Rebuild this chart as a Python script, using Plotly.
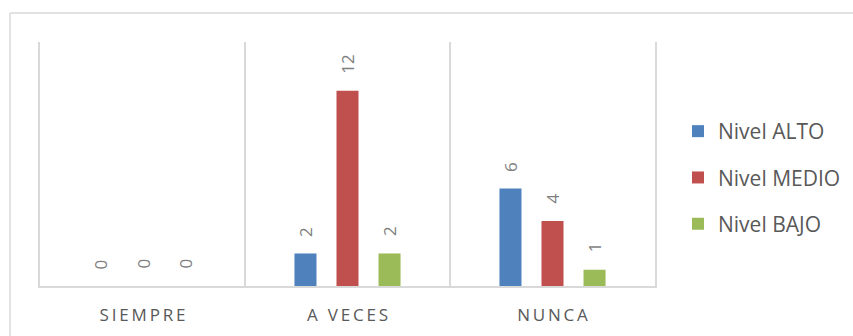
import plotly.graph_objects as go

# Survey answers per level
categories = ["SIEMPRE", "A VECES", "NUNCA"]
series_names = ["Nivel ALTO", "Nivel MEDIO", "Nivel BAJO"]
nivel_alto = [0, 2, 6]
nivel_medio = [0, 12, 4]
nivel_bajo = [0, 2, 1]
series_values = [nivel_alto, nivel_medio, nivel_bajo]
colors = ["#4F81BD", "#C0504D", "#9BBB59"]

W, H = 853, 336
M_L, M_R, M_T, M_B = 40, 198, 42, 50
BARGAP = 0.385
BARGROUPGAP = 0.476
Y_MAX = 15

FONT = "Open Sans"
LABEL_GRAY = "#7F7F7F"
TEXT_GRAY = "#595959"
LINE_GRAY = "#D9D9D9"

# letter-spaced category labels
spaced = ["\u2009".join(c) for c in categories]

fig = go.Figure()
for name, vals, col in zip(series_names, series_values, colors):
    fig.add_trace(go.Bar(
        name=name, x=categories, y=vals,
        marker=dict(color=col, line=dict(width=0)),
        legendgroup=name,
        hoverinfo="skip",
    ))

# value labels above each bar, rotated
plot_w = W - M_L - M_R
slot = plot_w / len(categories) * (1 - BARGAP) / len(series_names)
for i, vals in enumerate(series_values):
    shift = (i - (len(series_names) - 1) / 2) * slot
    for cat, v in zip(categories, vals):
        fig.add_annotation(
            x=cat, y=v, xref="x", yref="y",
            text=str(v), showarrow=False, textangle=-90,
            xshift=shift, yshift=15, yanchor="bottom", xanchor="center",
            font=dict(family=FONT, size=17, color=LABEL_GRAY),
        )

# chart frame (top and left edges)
plot_h = H - M_T - M_B
x0 = (10 - M_L) / plot_w
y1 = (H - M_B - 13) / plot_h
fig.add_shape(type="line", xref="paper", yref="paper", x0=x0, x1=2, y0=y1, y1=y1,
              line=dict(color=LINE_GRAY, width=1.5))
fig.add_shape(type="line", xref="paper", yref="paper", x0=x0, x1=x0, y0=y1, y1=-1,
              line=dict(color=LINE_GRAY, width=1.5))

fig.update_layout(
    width=W, height=H,
    margin=dict(l=M_L, r=M_R, t=M_T, b=M_B, autoexpand=False),
    paper_bgcolor="white", plot_bgcolor="white",
    barmode="group", bargap=BARGAP, bargroupgap=BARGROUPGAP,
    showlegend=True,
    legend=dict(
        x=(678 - M_L) / plot_w, xanchor="left",
        y=(H - M_B - 177.5) / plot_h, yanchor="middle",
        traceorder="grouped", tracegroupgap=16,
        font=dict(family=FONT, size=21, color=TEXT_GRAY),
        bgcolor="rgba(0,0,0,0)",
    ),
    xaxis=dict(
        type="category", tickmode="array", tickvals=categories, ticktext=spaced,
        tickson="boundaries", ticks="", showgrid=True, gridcolor=LINE_GRAY, gridwidth=1.5,
        showline=True, linecolor=LINE_GRAY, linewidth=1.5,
        tickfont=dict(family=FONT, size=17, color=TEXT_GRAY),
        ticklabelstandoff=13, zeroline=False,
    ),
    yaxis=dict(
        range=[0, Y_MAX], showticklabels=False, ticks="", showgrid=False, zeroline=False,
        showline=True, mirror=True, linecolor=LINE_GRAY, linewidth=1.5,
    ),
)

fig.write_html("out.html")
